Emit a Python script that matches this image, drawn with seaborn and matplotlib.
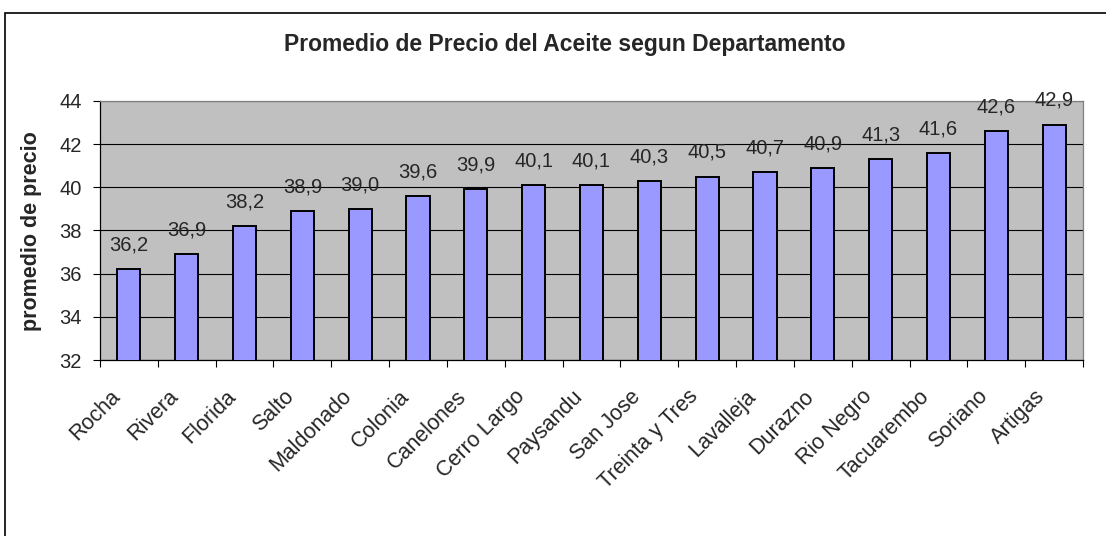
import matplotlib
matplotlib.use("Agg")
import matplotlib.pyplot as plt
import matplotlib.transforms as mtransforms
import seaborn as sns
import pandas as pd
import numpy as np
from matplotlib.patches import Rectangle

departamentos = ["Rocha", "Rivera", "Florida", "Salto", "Maldonado", "Colonia",
                 "Canelones", "Cerro Largo", "Paysandu", "San Jose", "Treinta y Tres",
                 "Lavalleja", "Durazno", "Rio Negro", "Tacuarembo", "Soriano", "Artigas"]
precios = [36.2, 36.9, 38.2, 38.9, 39.0, 39.6, 39.9, 40.1, 40.1, 40.3, 40.5,
           40.7, 40.9, 41.3, 41.6, 42.6, 42.9]
y_ticks = [32, 34, 36, 38, 40, 42, 44]

sns.set_style("white")
plt.rcParams['font.family'] = ['Liberation Sans', 'DejaVu Sans']

df = pd.DataFrame({"dep": departamentos, "precio": precios})

W, H = 1106, 536
fig = plt.figure(figsize=(W / 100, H / 100), dpi=100)
ax = fig.add_axes([100 / W, 1 - 360 / H, 983 / W, 259 / H])
ax.set_facecolor("#C0C0C0")

sns.barplot(data=df, x="dep", y="precio", color="#9999FF", edgecolor="black",
            linewidth=1.4, width=0.4, saturation=1, ax=ax, zorder=3)

ax.set_ylim(32, 44)
ax.set_xlim(-0.5, len(departamentos) - 0.5)
ax.set_yticks(y_ticks)
ax.set_yticklabels([str(t) for t in y_ticks], fontsize=14.5)
ax.yaxis.grid(True, color="black", linewidth=0.8, zorder=0)
ax.set_axisbelow(True)
ax.tick_params(axis="y", length=5, width=0.8, color="black", direction="out",
               left=True, pad=8)

# x tick labels at category centres, tick marks at category boundaries
ax.set_xticks(np.arange(len(departamentos)))
ax.set_xticklabels(departamentos, rotation=45, ha="right", va="center",
                   rotation_mode="anchor", fontsize=15.5)
ax.tick_params(axis="x", which="major", length=0, pad=24)
shift = mtransforms.ScaledTranslation(-12 / 100, 0, fig.dpi_scale_trans)
for lab in ax.get_xticklabels():
    lab.set_transform(lab.get_transform() + shift)
ax.set_xticks(np.arange(-0.5, len(departamentos), 1), minor=True)
ax.tick_params(axis="x", which="minor", length=5, width=0.8, color="black",
               direction="out", bottom=True)

ax.set_xlabel("")
ax.set_ylabel("")
fig.text(31.5 / W, 1 - 231 / H, "promedio de precio", rotation=90,
         ha="center", va="center", fontsize=15.5, fontweight="bold")

for s in ["left", "bottom"]:
    ax.spines[s].set_color("black")
    ax.spines[s].set_linewidth(0.9)
for s in ["top", "right"]:
    ax.spines[s].set_color("#808080")
    ax.spines[s].set_linewidth(0.9)

for i, v in enumerate(precios):
    ax.annotate(f"{v:.1f}".replace(".", ","), (i, v), xytext=(0, 13.5),
                textcoords="offset points", ha="center", va="baseline",
                fontsize=14.5, annotation_clip=False, zorder=5)

fig.text(565 / W, 1 - 45 / H, "Promedio de Precio del Aceite segun Departamento",
         ha="center", va="center", fontsize=16.5, fontweight="bold")

# chart area border
fig.patches.append(Rectangle((5 / W, -0.01), 1.01, 1 - 13 / H + 0.01,
                             transform=fig.transFigure, fill=False,
                             edgecolor="black", linewidth=1.2))

fig.savefig("out.png", dpi=100, facecolor="white")
